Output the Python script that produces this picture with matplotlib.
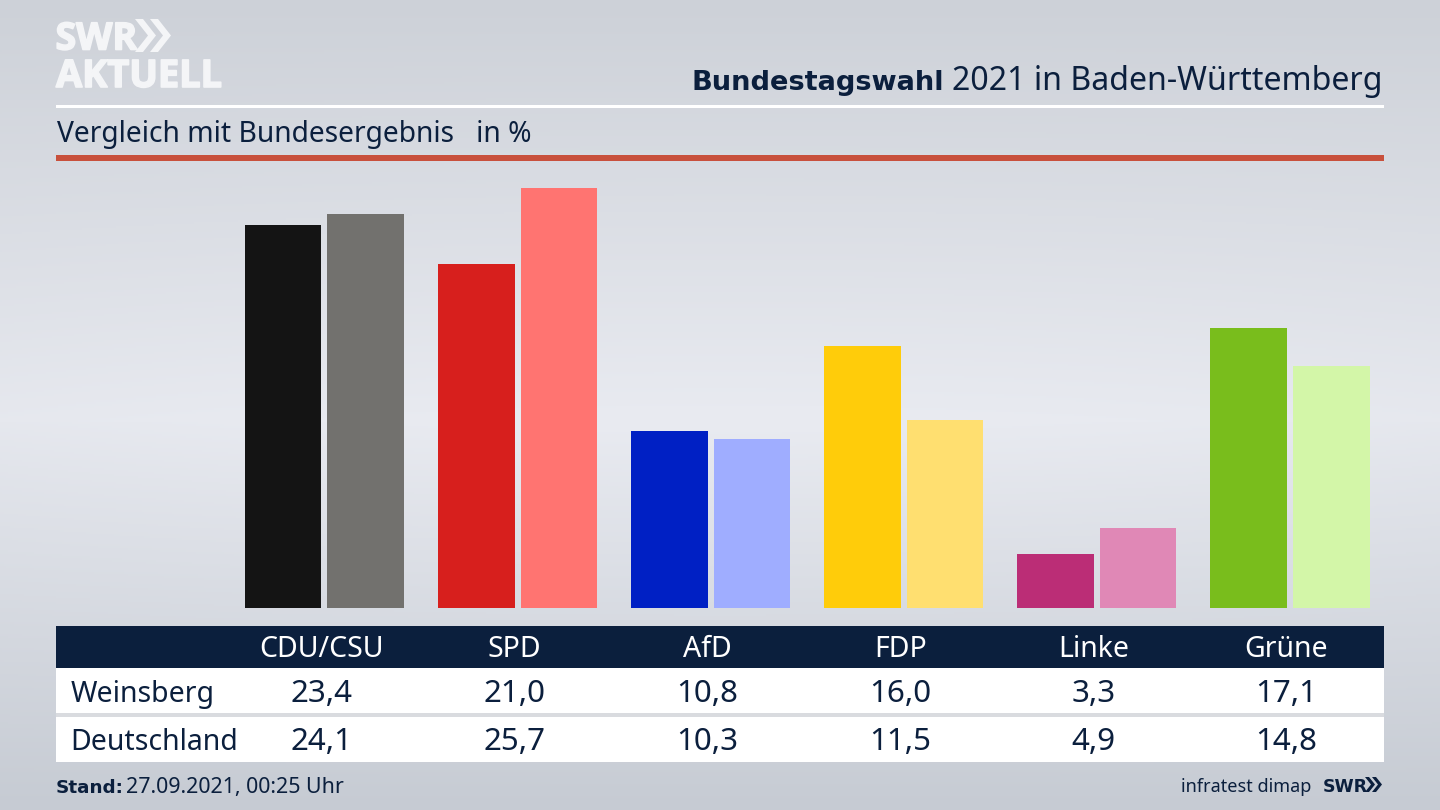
import numpy as np
import matplotlib
matplotlib.use("Agg")
import matplotlib.pyplot as plt
import matplotlib.patheffects as pe
from matplotlib.patches import Rectangle, Polygon

parties = ["CDU/CSU", "SPD", "AfD", "FDP", "Linke", "Grüne"]
weinsberg = [23.4, 21.0, 10.8, 16.0, 3.3, 17.1]
deutschland = [24.1, 25.7, 10.3, 11.5, 4.9, 14.8]
weinsberg_labels = ["23,4", "21,0", "10,8", "16,0", "3,3", "17,1"]
deutschland_labels = ["24,1", "25,7", "10,3", "11,5", "4,9", "14,8"]
colors_w = ["#141414", "#d71f1d", "#0020c4", "#ffcc0a", "#bb2d76", "#79bd1c"]
colors_d = ["#72716e", "#ff7471", "#9fadff", "#ffdf70", "#e088b6", "#d3f6a8"]

NAVY = "#0b1f3d"
FONT = "Noto Sans"
BOLD = "DejaVu Sans"
LOGO = "#f4f5f7"
plt.rcParams["font.family"] = [FONT, "DejaVu Sans"]

fig = plt.figure(figsize=(14.4, 8.1), dpi=100)

# background + furniture layer, in pixel coordinates
bg = fig.add_axes([0, 0, 1, 1])
bg.set_xlim(0, 1440); bg.set_ylim(810, 0); bg.axis("off")
yy = np.linspace(0, 1, 405)[:, None]
xx = np.linspace(-1, 1, 720)[None, :]
top = np.array([205, 209, 216.]); mid = np.array([233, 235, 241.]); bot = np.array([198, 203, 211.])
t = np.where(yy < 0.52, yy / 0.52, (1 - yy) / 0.48)
t = t * (1 - 0.10 * xx**2)
img = np.stack([(np.where(yy < 0.52, top[c], bot[c]) + (mid[c] - np.where(yy < 0.52, top[c], bot[c])) * t)
                for c in range(3)], axis=-1) / 255
bg.imshow(img, extent=[0, 1440, 810, 0], aspect="auto", zorder=0)

def rect(x0, y0, x1, y1, c, z=1):
    bg.add_patch(Rectangle((x0, y0), x1 - x0, y1 - y0, fc=c, ec="none", zorder=z))

rect(56, 105, 1384, 107.5, "white")
rect(56, 155, 1384, 160.5, "#c8503c")
rect(56, 626, 1384, 668, NAVY)
rect(56, 668, 1384, 713, "white")
rect(56, 713, 1384, 717, "#d9dbdf")
rect(56, 717, 1384, 762, "white")

# logo
fat = [pe.withStroke(linewidth=1.2, foreground=LOGO)]
bg.text(55.5, 49.5, "SWR", color=LOGO, fontsize=27, fontweight="bold", family="Open Sans",
        va="baseline", zorder=3, path_effects=fat)
bg.text(56, 87, "AKTUELL", color=LOGO, fontsize=27.3, fontweight="bold", family="Open Sans",
        va="baseline", zorder=3, path_effects=fat)
def chevrons(x, y0, y1, w, t, gap, c):
    ym = (y0 + y1) / 2
    for k in range(2):
        o = x + k * gap
        bg.add_patch(Polygon([(o, y0), (o + t, y0), (o + t + w, ym), (o + t, y1), (o, y1), (o + w, ym)],
                             fc=c, ec="none", zorder=3))
chevrons(135, 19, 52, 13, 8, 15, LOGO)

# header text
bg.text(1383, 90, "2021 in Baden-Württemberg", color=NAVY, fontsize=23.1, ha="right", va="baseline", zorder=3)
bg.text(944, 90, "Bundestagswahl", color=NAVY, fontsize=19.6, fontweight="bold", family=BOLD,
        ha="right", va="baseline", zorder=3)
bg.text(57, 142, "Vergleich mit Bundesergebnis   in %", color=NAVY, fontsize=20.3, va="baseline", zorder=3)

# table
cx = [321.5 + 193 * i for i in range(6)]
for i, p in enumerate(parties):
    bg.text(cx[i], 657, p, color="white", fontsize=20.5, ha="center", va="baseline", zorder=3)
    bg.text(cx[i], 702, weinsberg_labels[i], color=NAVY, fontsize=22.5, ha="center", va="baseline", zorder=3)
    bg.text(cx[i], 750, deutschland_labels[i], color=NAVY, fontsize=22.5, ha="center", va="baseline", zorder=3)
bg.text(70.5, 702, "Weinsberg", color=NAVY, fontsize=20.5, va="baseline", zorder=3)
bg.text(70.5, 750, "Deutschland", color=NAVY, fontsize=20.5, va="baseline", zorder=3)

# footer
bg.text(56, 793, "Stand:", color=NAVY, fontsize=13.2, fontweight="bold", family=BOLD, va="baseline", zorder=3)
bg.text(126, 793, "27.09.2021, 00:25 Uhr", color=NAVY, fontsize=15.4, va="baseline", zorder=3)
bg.text(1311, 792, "infratest dimap", color=NAVY, fontsize=13, ha="right", va="baseline", zorder=3)
bg.text(1323, 792, "SWR", color=NAVY, fontsize=12.5, fontweight="bold", family=BOLD, va="baseline", zorder=3)
chevrons(1365, 777, 792, 6, 4, 7, NAVY)

# bars, on a real data axis
px_per_unit = 16.36
base_px, top_px = 608, 170
ax = fig.add_axes([0, (810 - base_px) / 810, 1, (base_px - top_px) / 810])
ax.patch.set_alpha(0)
ax.set_xlim(-324.5 / 193.1, (1440 - 324.5) / 193.1)
ax.set_ylim(0, (base_px - top_px) / px_per_unit)
ax.axis("off")
x = np.arange(len(parties))
off = 41.3 / 193.1
w = 76.6 / 193.1
ax.bar(x - off, weinsberg, w, color=colors_w)
ax.bar(x + off, deutschland, w, color=colors_d)

fig.savefig("out.png", dpi=100)
